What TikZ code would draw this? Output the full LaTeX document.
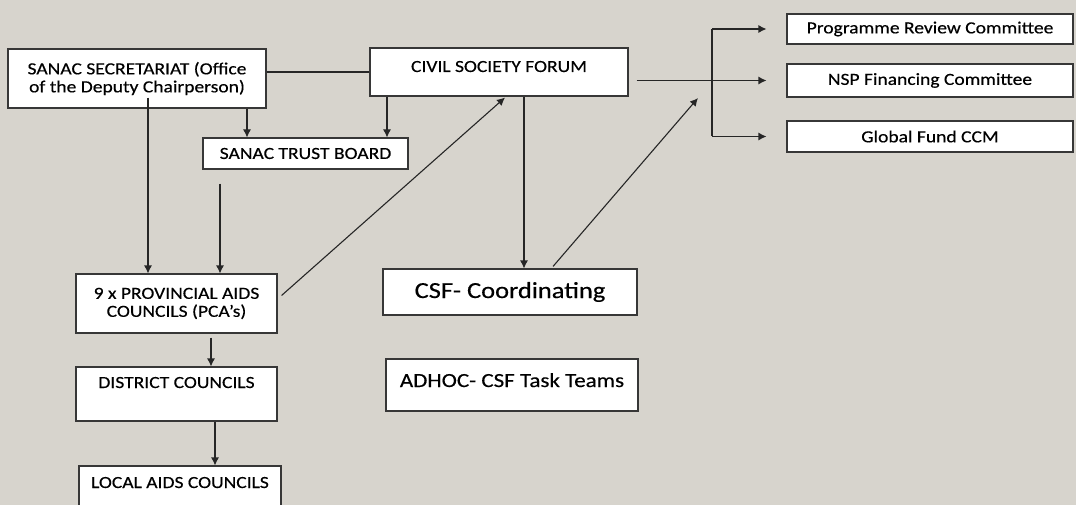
\documentclass[tikz,border=0pt]{standalone}
\usepackage{fontspec}
\setmainfont{Carlito}[FakeStretch=1.15,FakeBold=0.4]
\usetikzlibrary{arrows.meta}
\definecolor{paper}{RGB}{215,212,205}
\definecolor{edge}{RGB}{55,55,55}

\begin{document}
\begin{tikzpicture}[x=1pt,y=-1pt,>={Latex[length=8pt,width=8pt]},
  box/.style={draw=edge,line width=1.1pt,fill=white,inner sep=0pt,align=center,
    font=\fontsize{17}{18}\selectfont},
  link/.style={draw=black!85,line width=1.1pt}]
  \useasboundingbox (0,0) rectangle (1076,505);
  \fill[paper] (0,0) rectangle (1076,505);

  \node[box,minimum width=258pt,minimum height=59pt] (sec) at (137,78.5) {SANAC SECRETARIAT (Office\\of the Deputy Chairperson)};
  \node[box,minimum width=258pt,text height=24pt,text depth=24pt] (csf) at (499,72) {CIVIL SOCIETY FORUM};
  \node[box,minimum width=205pt,minimum height=31pt] (trust) at (305.5,153.5) {SANAC TRUST BOARD};
  \node[box,minimum width=286pt,minimum height=30pt] (prc) at (930,29) {Programme Review Committee};
  \node[box,minimum width=286pt,minimum height=33pt] (nsp) at (930,80.5) {NSP Financing Committee};
  \node[box,minimum width=286pt,minimum height=31pt] (gf) at (930,136.5) {Global Fund CCM};
  \node[box,minimum width=201pt,minimum height=59pt] (pca) at (176.5,303.5) {9 x PROVINCIAL AIDS\\COUNCILS (PCA’s)};
  \node[box,minimum width=201pt,text height=21pt,text depth=33pt] (dist) at (176.5,394) {DISTRICT COUNCILS};
  \node[box,minimum width=202pt,text height=22pt,text depth=32pt] (local) at (180,493) {LOCAL AIDS COUNCILS};
  \node[box,minimum width=254pt,minimum height=46pt,font=\fontsize{23}{26}\selectfont] (coord) at (510,292) {CSF- Coordinating};
  \node[box,minimum width=252pt,text height=28pt,text depth=24pt,font=\fontsize{20}{22}\selectfont] (adhoc) at (512,385) {ADHOC- CSF Task Teams};

  \coordinate (fork) at (712,80.5);
  \coordinate (tip) at (698,98);

  \draw[link] (sec.east |- csf.west) -- (csf.west);
  \draw[link,->] ([xshift=-58.5pt]trust.north |- sec.south) -- ([xshift=-58.5pt]trust.north);
  \draw[link,->] ([xshift=81.5pt]trust.north |- csf.south) -- ([xshift=81.5pt]trust.north);
  \draw[link,->] ([xshift=-28.5pt,yshift=11pt]pca.north |- sec.south) -- ([xshift=-28.5pt]pca.north);
  \draw[link,->] ([xshift=-85.5pt,yshift=-14pt]trust.south) -- ([xshift=43.5pt]pca.north);
  \draw[link,->] ([xshift=34.5pt,yshift=-4pt]pca.south) -- ([xshift=34.5pt]dist.north);
  \draw[link,->] ([xshift=38.5pt]dist.south) -- ([xshift=35pt]local.north);
  \draw[link,->] ([xshift=4pt,yshift=8pt]pca.east) -- ([xshift=6pt,yshift=-1pt]csf.south);
  \draw[link,->] ([xshift=25pt]csf.south) -- ([xshift=14pt]coord.north);
  \draw[link,->] ([xshift=43pt,yshift=2pt]coord.north) -- (tip);
  \draw[link] ([xshift=8pt]csf.east |- fork) -- (fork);
  \draw[link] (fork |- prc.west) -- (fork |- gf.west);
  \foreach \c in {prc,nsp,gf}
    \draw[link,->] (fork |- \c.west) -- ([xshift=-20pt]\c.west);
\end{tikzpicture}
\end{document}
